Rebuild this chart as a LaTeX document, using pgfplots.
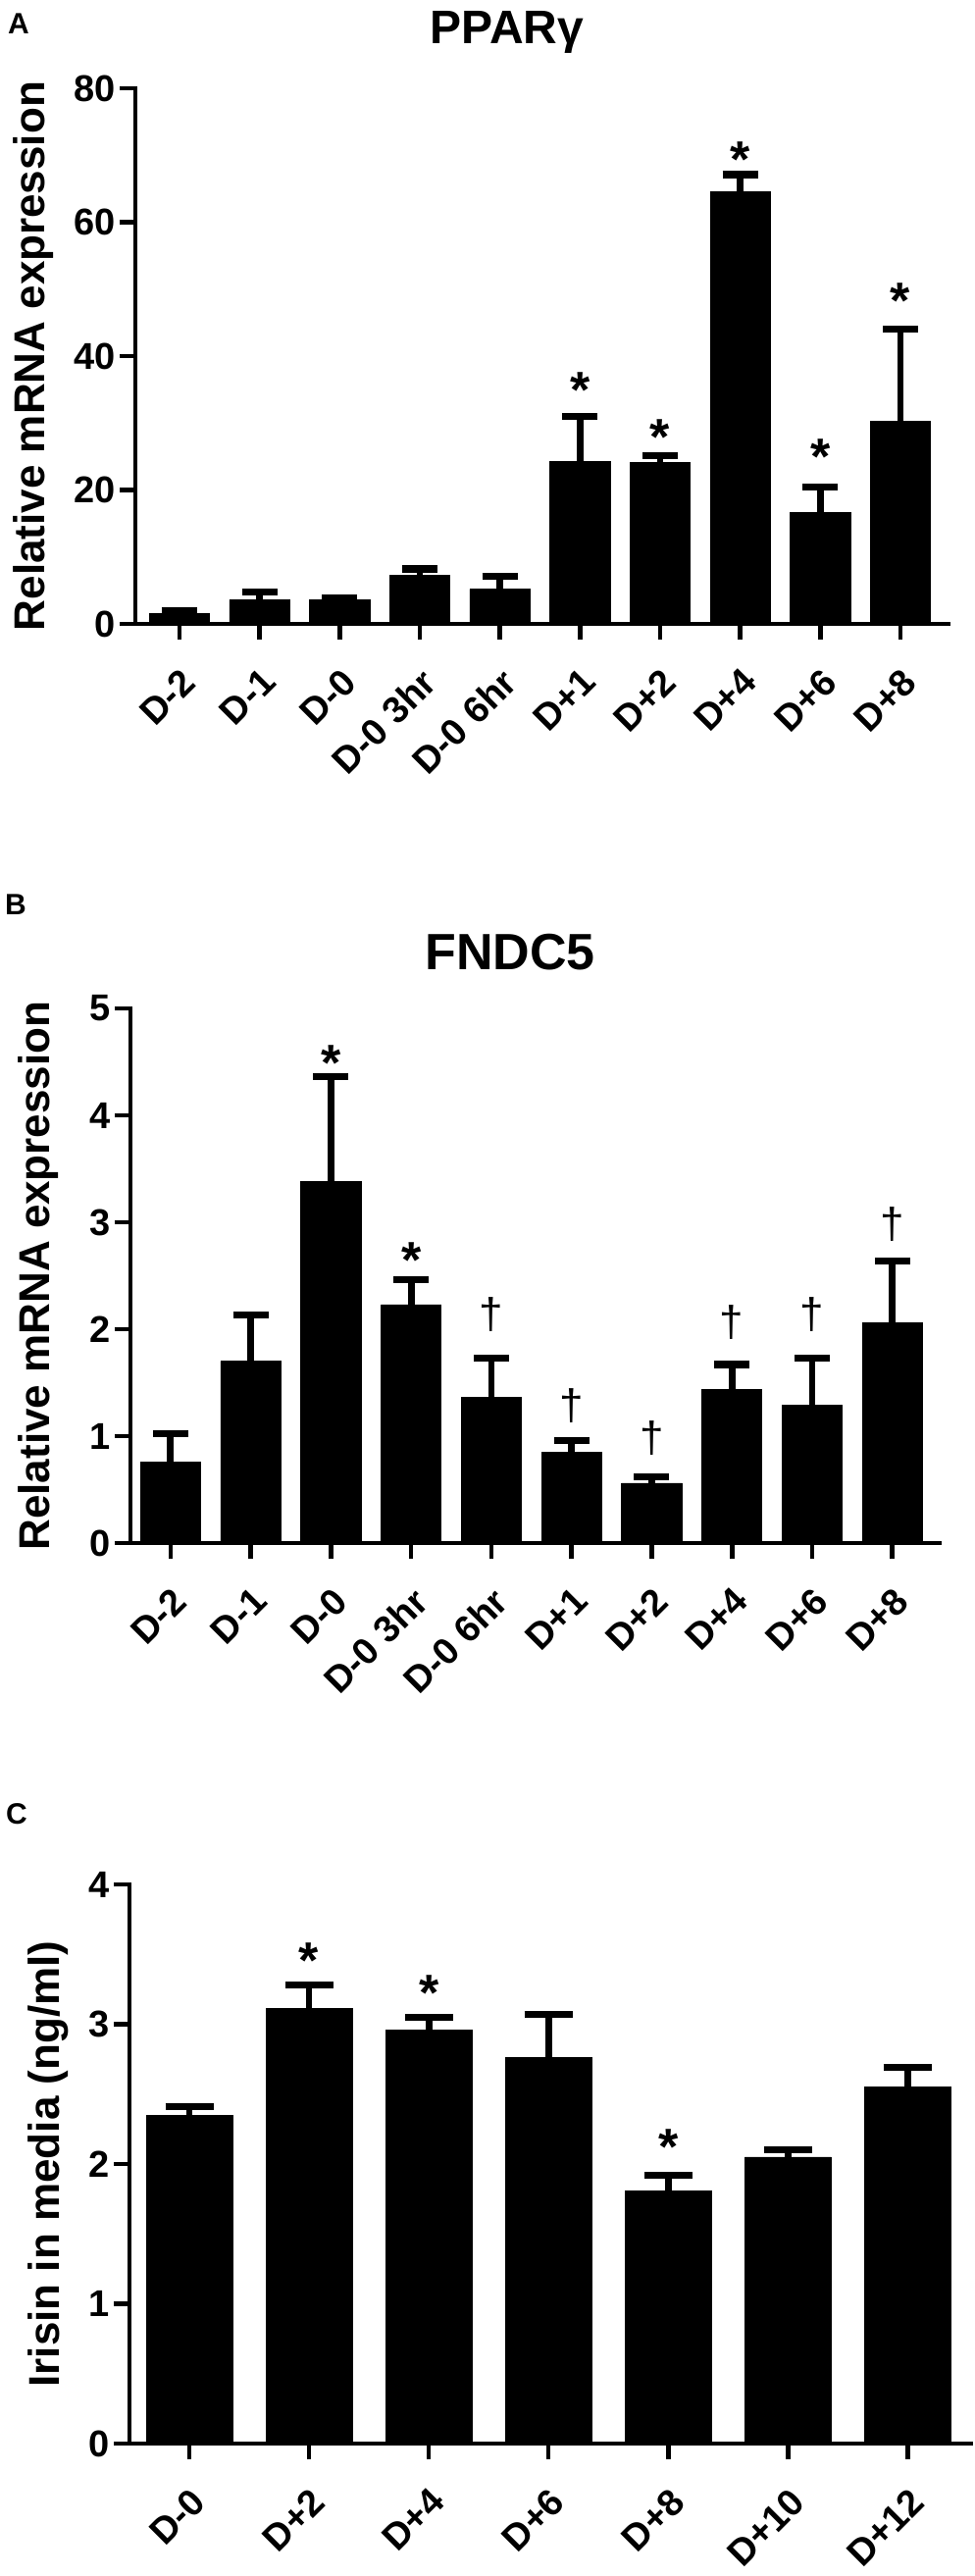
\documentclass[border=0pt]{standalone}
\usepackage{fontspec}
\setmainfont{Liberation Sans}
\usepackage{pgfplots}
\usepackage{pgfplotstable}
\pgfplotsset{compat=1.18}
\newcommand{\fs}[1]{\fontsize{#1}{#1}\selectfont}
\newcommand{\sigast}{\raisebox{-0.58em}[0pt][0pt]{*}}
\newcommand{\sigdag}{\raisebox{-0.30em}[0pt][0pt]{\mdseries †}}

\pgfplotstableread{
x y e
0 1.5 0.4
1 3.6 1.2
2 3.6 0.2
3 7.3 0.9
4 5.2 1.9
5 24.2 6.8
6 24.1 1.0
7 64.5 2.6
8 16.7 3.7
9 30.3 13.7
}\dataA
\pgfplotstableread{
x y e
0 0.76 0.26
1 1.70 0.43
2 3.38 0.98
3 2.23 0.23
4 1.36 0.37
5 0.85 0.11
6 0.56 0.06
7 1.44 0.23
8 1.29 0.44
9 2.06 0.58
}\dataB
\pgfplotstableread{
x y e
0 2.35 0.06
1 3.11 0.17
2 2.96 0.09
3 2.76 0.31
4 1.81 0.11
5 2.05 0.05
6 2.55 0.14
}\dataC

\pgfplotsset{
  gp/.style={
    scale only axis,
    clip=false,
    axis x line=bottom,
    axis y line=left,
    axis line style={-, line width=2.3pt, line cap=rect, black},
    tick align=outside,
    major tick length=8pt,
    tick style={line width=2.3pt, black},
    minor tick num=0,
    /pgf/number format/assume math mode=true,
    yticklabel style={font=\bfseries\fs{19}, inner sep=2pt},
    xticklabel shift=12pt,
    xticklabel style={font=\bfseries\fs{19}, rotate=45, anchor=north east, inner sep=1pt},
    ylabel style={font=\bfseries\fs{22}, anchor=center},
    every axis title/.style={anchor=base, font=\bfseries\fs{24}},
  },
  gpbar/.style 2 args={
    ybar, bar width=#2, fill=black, draw=black, line width=0.4pt,
    error bars/.cd, y dir=plus, y explicit,
    error bar style={line width=3.4pt, black},
    error mark=|,
    error mark options={line width=3.6pt, mark size=#1, black}
  },
  gpsym/.style={
    only marks, mark=*, mark size=0pt, mark options={draw=none, fill=none},
    nodes near coords={#1},
    every node near coord/.append style={anchor=center, inner sep=0pt, text=black}
  }
}

\begin{document}
\begin{tikzpicture}
\useasboundingbox (0,0) rectangle (497pt,-1313pt);

% Panel A
\node[font=\bfseries\fs{15}] at (9.5pt,-12pt) {A};
\begin{axis}[gp,
  at={(69pt,-318pt)}, anchor=south west,
  width=414.5pt, height=273pt,
  xmin=-0.55, xmax=9.6, ymin=0, ymax=80,
  ytick={0,20,40,60,80},
  xtick={0,...,9},
  xticklabels={D-2,D-1,D-0,D-0 3hr,D-0 6hr,D+1,D+2,D+4,D+6,D+8},
  ylabel={Relative mRNA expression},
  ylabel style={at={(axis description cs:-0.1255,0.5)}},
  title={PPARγ},
  title style={at={(axis description cs:0.457,1.084)}},
]
\addplot[gpbar={9pt}{0.75}] table[x=x,y=y,y error=e] {\dataA};
\addplot[gpsym={\sigast}, every node near coord/.append style={font=\bfseries\fs{26}}] coordinates {
(5,36.7) (6,29.7) (7,71.2) (8,26.7) (9,50.1)};
\end{axis}

% Panel B
\node[font=\bfseries\fs{15}] at (8pt,-461pt) {B};
\begin{axis}[gp,
  at={(66.5pt,-786.5pt)}, anchor=south west,
  width=412.5pt, height=272.5pt,
  xmin=-0.5, xmax=9.59, ymin=0, ymax=5,
  ytick={0,1,2,3,4,5},
  xtick={0,...,9},
  xticklabels={D-2,D-1,D-0,D-0 3hr,D-0 6hr,D+1,D+2,D+4,D+6,D+8},
  ylabel={Relative mRNA expression},
  ylabel style={at={(axis description cs:-0.114,0.5)}},
  title={FNDC5},
  title style={at={(axis description cs:0.469,1.073)}, font=\bfseries\fs{26}},
]
\addplot[gpbar={9pt}{0.75}] table[x=x,y=y,y error=e] {\dataB};
\addplot[gpsym={\sigast}, every node near coord/.append style={font=\bfseries\fs{26}}] coordinates {
(2,4.6) (3,2.76)};
\addplot[gpsym={\sigdag}, every node near coord/.append style={font=\fs{22}}] coordinates {
(4,2.13) (5,1.27) (6,0.97) (7,2.05) (8,2.13) (9,2.97)};
\end{axis}

% Panel C
\node[font=\bfseries\fs{15}] at (8.5pt,-924.5pt) {C};
\begin{axis}[gp,
  at={(66pt,-1245.5pt)}, anchor=south west,
  width=429pt, height=285pt,
  xmin=-0.5, xmax=6.53, ymin=0, ymax=4,
  ytick={0,1,2,3,4},
  xtick={0,...,6},
  xticklabels={D-0,D+2,D+4,D+6,D+8,D+10,D+12},
  ylabel={Irisin in media (ng/ml)},
  ylabel style={at={(axis description cs:-0.0963,0.5)}},
]
\addplot[gpbar={12.25pt}{0.72}] table[x=x,y=y,y error=e] {\dataC};
\addplot[gpsym={\sigast}, every node near coord/.append style={font=\bfseries\fs{26}}] coordinates {
(1,3.54) (2,3.31) (4,2.21)};
\end{axis}
\end{tikzpicture}
\end{document}
